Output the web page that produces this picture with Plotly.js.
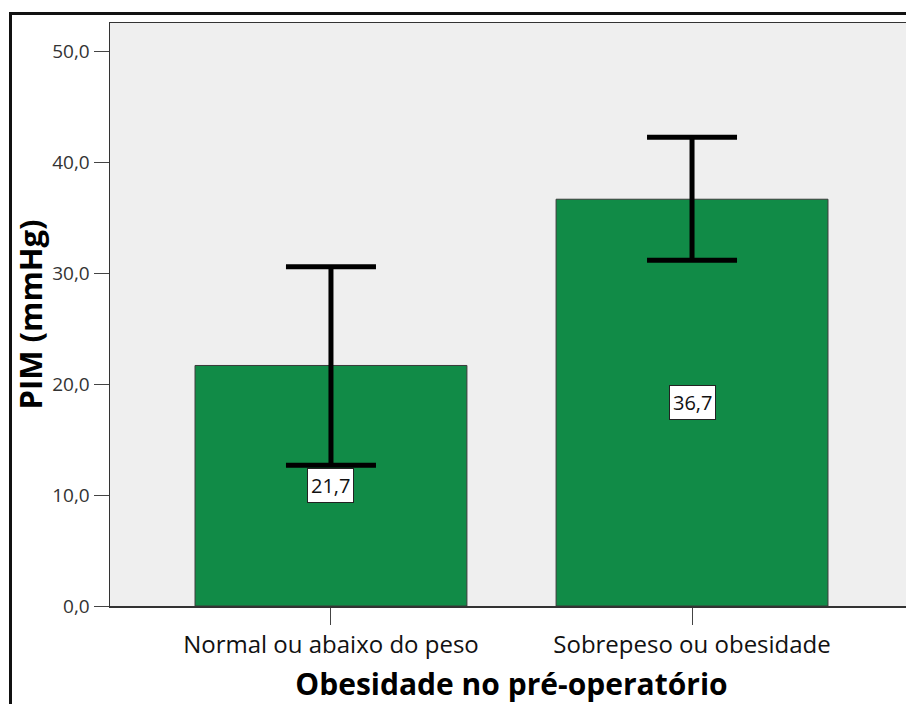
<!DOCTYPE html>
<html>
<head>
<meta charset="utf-8">
<script src="https://cdn.plot.ly/plotly-3.0.1.min.js"></script>
<style>
  html, body { margin: 0; padding: 0; width: 906px; height: 704px; overflow: hidden; background: #fff; }
  #chart { position: absolute; left: 0; top: 0; }
  #frame { position: absolute; left: 9px; top: 12px; width: 1000px; height: 1000px;
           border: 3px solid #111; pointer-events: none; }
</style>
</head>
<body>
<div id="chart"></div>
<div id="frame"></div>
<script>
// Mean PIM by pre-operative weight group, with 95% CI limits
const categories = ['Normal ou abaixo do peso', 'Sobrepeso ou obesidade'];
const means = [21.7, 36.7];
const ciUpper = [30.6, 42.3];
const ciLower = [12.7, 31.2];
const yTicks = [0, 10, 20, 30, 40, 50];

const fmt = v => v.toFixed(1).replace('.', ',');

const errPlus = means.map((m, i) => +(ciUpper[i] - m).toFixed(2));
const errMinus = means.map((m, i) => +(m - ciLower[i]).toFixed(2));

const trace = {
  type: 'bar',
  x: categories,
  y: means,
  width: 0.753,
  marker: { color: '#118b47', line: { color: '#3a3a3a', width: 1 } },
  error_y: {
    type: 'data',
    symmetric: false,
    array: errPlus,
    arrayminus: errMinus,
    color: '#000',
    thickness: 5,
    width: 45
  },
  hoverinfo: 'skip'
};

const annotations = categories.map((c, i) => ({
  x: c,
  y: means[i] / 2,
  xref: 'x',
  yref: 'y',
  text: fmt(means[i]),
  showarrow: false,
  font: { family: 'Open Sans, sans-serif', size: 20, color: '#111' },
  bgcolor: '#ffffff',
  bordercolor: '#222',
  borderwidth: 1,
  borderpad: 3
}));

const layout = {
  width: 920,
  height: 720,
  margin: { l: 110, r: 7, t: 23, b: 114 },
  paper_bgcolor: 'rgba(0,0,0,0)',
  plot_bgcolor: '#efefef',
  showlegend: false,
  separators: ',.',
  font: { family: 'Open Sans, sans-serif', color: '#111' },
  xaxis: {
    type: 'category',
    range: [-0.612, 1.612],
    showgrid: false,
    zeroline: false,
    showline: true,
    mirror: true,
    linecolor: '#333',
    linewidth: 1.5,
    ticks: 'outside',
    ticklen: 17,
    tickwidth: 1,
    tickcolor: '#444',
    tickfont: { family: 'Open Sans, sans-serif', size: 24, color: '#111' },
    title: {
      text: 'Obesidade no pré-operatório',
      font: { family: 'Open Sans, sans-serif', size: 30, color: '#000', weight: 'bold' },
      standoff: 14
    }
  },
  yaxis: {
    range: [0, 52.6],
    tickvals: yTicks,
    ticktext: yTicks.map(fmt),
    showgrid: false,
    zeroline: false,
    showline: true,
    mirror: true,
    linecolor: '#333',
    linewidth: 1.5,
    ticks: 'outside',
    ticklen: 15,
    tickwidth: 1,
    tickcolor: '#444',
    tickfont: { family: 'Open Sans, sans-serif', size: 19, color: '#333' },
    title: {
      text: 'PIM (mmHg)',
      font: { family: 'Open Sans, sans-serif', size: 31, color: '#000', weight: 'bold' },
      standoff: 0
    }
  },
  annotations: annotations
};

Plotly.newPlot('chart', [trace], layout, { displayModeBar: false, staticPlot: true });
</script>
</body>
</html>
